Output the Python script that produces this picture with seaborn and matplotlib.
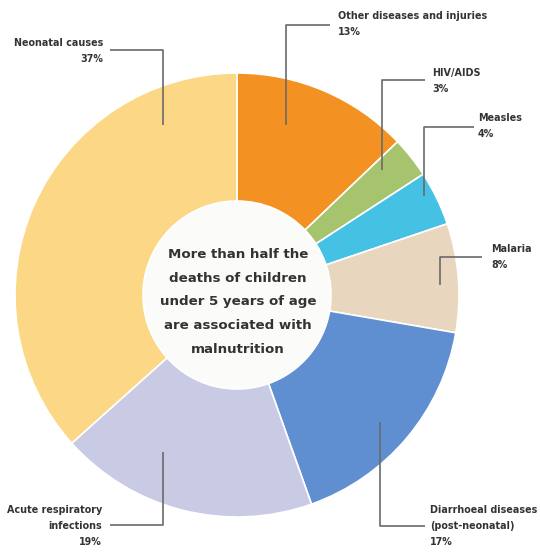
import matplotlib
matplotlib.use("Agg")
import matplotlib.pyplot as plt
import seaborn as sns

sns.set_theme(style="white")
plt.rcParams['font.family'] = ['DejaVu Sans']

categories = ["Other diseases and injuries", "HIV/AIDS", "Measles", "Malaria",
              "Diarrhoeal diseases\n(post-neonatal)", "Acute respiratory\ninfections",
              "Neonatal causes"]
values = [13, 3, 4, 8, 17, 19, 37]
pct_labels = ["13%", "3%", "4%", "8%", "17%", "19%", "37%"]
colors = ["#F39122", "#A6C46E", "#45C1E3", "#E9D6BF", "#5F8FD0", "#C9CAE4", "#FCD785"]
center_text = "More than half the\ndeaths of children\nunder 5 years of age\nare associated with\nmalnutrition"

W, H = 540, 554
fig = plt.figure(figsize=(W / 100, H / 100), dpi=100)
ax = fig.add_axes([0, 0, 1, 1])

cx, cy, R, r_in = 237, H - 295, 222, 94
ax.pie(values, colors=colors, startangle=90, counterclock=False,
       center=(cx, cy), radius=R,
       wedgeprops=dict(width=R - r_in, edgecolor="white", linewidth=1.2))
ax.add_patch(plt.Circle((cx, cy), r_in, color="#FBFBF9", zorder=0.5))
ax.set_xlim(0, W)
ax.set_ylim(0, H)
ax.set_aspect("equal")
ax.axis("off")

ax.text(cx + 1, H - 302, center_text, ha="center", va="center", fontsize=9.6,
        fontweight="bold", color="#333333", linespacing=2.08)

# label callouts: (vertical x, y start, y elbow, x end, text x, ha, text y)
line_color = "#6a6a6a"
callouts = [
    (286, 125, 25, 330, 338, "left", 24),
    (382, 170, 80, 425, 432, "left", 81),
    (424, 196, 127, 474, 478, "left", 126),
    (440, 285, 257, 482, 491, "left", 257),
    (380, 422, 526, 425, 430, "left", 526),
    (163, 452, 525, 110, 102, "right", 526),
    (163, 125, 50, 110, 103, "right", 51),
]
for (name, pct, c) in zip(categories, pct_labels, callouts):
    vx, y0, y1, xe, tx, ha, ty = c
    ax.plot([vx, vx, xe], [H - y0, H - y1, H - y1], color=line_color, lw=1.2,
            solid_capstyle="butt")
    ax.text(tx, H - ty, f"{name}\n{pct}", ha=ha, va="center", fontsize=6.9,
            fontweight="bold", color="#333333", linespacing=1.75,
            multialignment=ha)

fig.savefig("out.png", dpi=100, facecolor="white")
